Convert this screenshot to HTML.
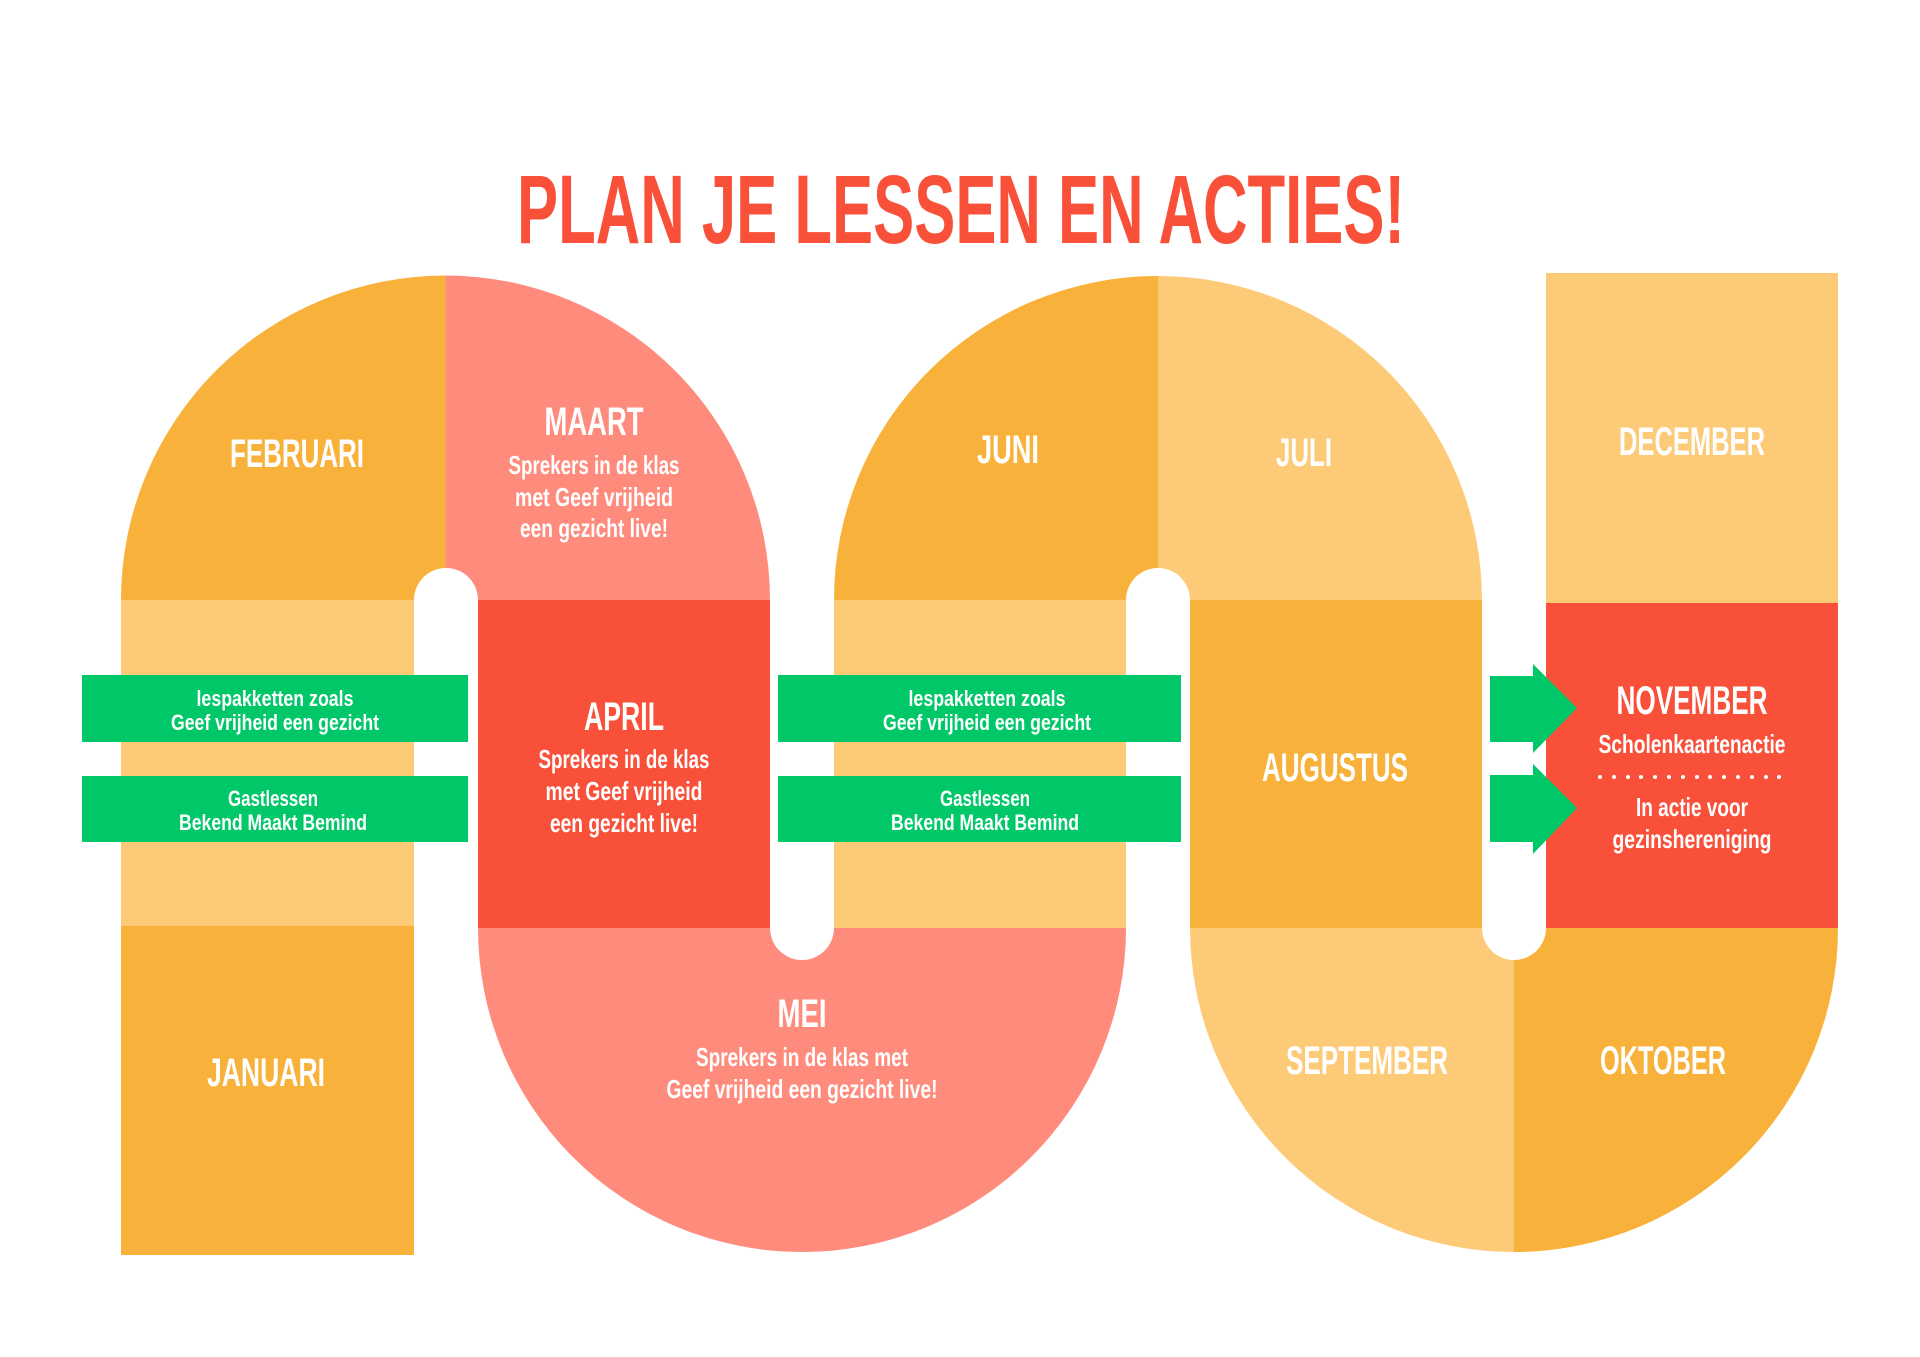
<!DOCTYPE html>
<html><head><meta charset="utf-8"><style>
html,body{margin:0;padding:0;background:#fff;}
svg{display:block;}
text{font-family:"Liberation Sans Narrow","Liberation Sans",sans-serif;font-weight:bold;fill:#fff;text-anchor:middle;}
</style></head><body>
<svg width="1920" height="1357" viewBox="0 0 1920 1357" xmlns="http://www.w3.org/2000/svg">
<rect width="1920" height="1357" fill="#fff"/>
<text x="961" y="243" font-size="97" textLength="888" lengthAdjust="spacingAndGlyphs" style="fill:#F9503A">PLAN JE LESSEN EN ACTIES!</text>

<!-- Arch 1 -->
<path d="M121 600 A324.5 324.5 0 0 1 445.5 275.5 L445.5 600 Z" fill="#F8B13A"/>
<path d="M445.5 275.5 A324.5 324.5 0 0 1 770 600 L445.5 600 Z" fill="#FF8B7D"/>
<rect x="121" y="600" width="293" height="326" fill="#FDCB77"/>
<rect x="121" y="926" width="293" height="329" fill="#F8B13A"/>
<rect x="478" y="600" width="292" height="328" fill="#F9503A"/>
<!-- Mei -->
<path d="M478 928 L1126 928 A324 324 0 0 1 478 928 Z" fill="#FF8B7D"/>
<!-- Arch 2 -->
<path d="M834 600 A324 324 0 0 1 1158 276 L1158 600 Z" fill="#F8B13A"/>
<path d="M1158 276 A324 324 0 0 1 1482 600 L1158 600 Z" fill="#FDCB77"/>
<rect x="834" y="600" width="292" height="328" fill="#FDCB77"/>
<rect x="1190" y="600" width="292" height="328" fill="#F8B13A"/>
<!-- bottom arch 2 -->
<path d="M1190 928 L1514 928 L1514 1252 A324 324 0 0 1 1190 928 Z" fill="#FDCB77"/>
<path d="M1514 928 L1838 928 A324 324 0 0 1 1514 1252 Z" fill="#F8B13A"/>
<rect x="1546" y="273" width="292" height="330" fill="#FDCB77"/>
<rect x="1546" y="603" width="292" height="325" fill="#F9503A"/>
<!-- gaps -->
<path d="M414 600 A32 32 0 0 1 478 600 L478 930 L414 930 Z" fill="#fff"/>
<path d="M770 598 L834 598 L834 928 A32 32 0 0 1 770 928 Z" fill="#fff"/>
<path d="M1126 600 A32 32 0 0 1 1190 600 L1190 930 L1126 930 Z" fill="#fff"/>
<path d="M1482 598 L1546 598 L1546 928 A32 32 0 0 1 1482 928 Z" fill="#fff"/>

<!-- green bars -->
<rect x="82" y="675" width="386" height="67" fill="#00C869"/>
<rect x="82" y="776" width="386" height="66" fill="#00C869"/>
<rect x="778" y="675" width="403" height="67" fill="#00C869"/>
<rect x="778" y="776" width="403" height="66" fill="#00C869"/>
<!-- arrows -->
<polygon points="1490,676 1533,676 1533,664 1577,708 1533,753 1533,742 1490,742" fill="#00C869"/>
<polygon points="1490,775 1533,775 1533,764 1577,808 1533,854 1533,842 1490,842" fill="#00C869"/>

<!-- labels -->
<text x="297" y="467" font-size="40" textLength="134" lengthAdjust="spacingAndGlyphs">FEBRUARI</text>
<text x="594" y="435" font-size="40" textLength="99" lengthAdjust="spacingAndGlyphs">MAART</text>
<text x="594" y="474" font-size="26" textLength="171" lengthAdjust="spacingAndGlyphs">Sprekers in de klas</text>
<text x="594" y="506" font-size="26" textLength="158" lengthAdjust="spacingAndGlyphs">met Geef vrijheid</text>
<text x="594" y="537" font-size="26" textLength="148" lengthAdjust="spacingAndGlyphs">een gezicht live!</text>

<text x="624" y="730" font-size="40" textLength="80" lengthAdjust="spacingAndGlyphs">APRIL</text>
<text x="624" y="768" font-size="26" textLength="171" lengthAdjust="spacingAndGlyphs">Sprekers in de klas</text>
<text x="624" y="800" font-size="26" textLength="157" lengthAdjust="spacingAndGlyphs">met Geef vrijheid</text>
<text x="624" y="832" font-size="26" textLength="148" lengthAdjust="spacingAndGlyphs">een gezicht live!</text>

<text x="266" y="1086" font-size="40" textLength="118" lengthAdjust="spacingAndGlyphs">JANUARI</text>
<text x="802" y="1027" font-size="40" textLength="49" lengthAdjust="spacingAndGlyphs">MEI</text>
<text x="802" y="1066" font-size="26" textLength="212" lengthAdjust="spacingAndGlyphs">Sprekers in de klas met</text>
<text x="802" y="1098" font-size="26" textLength="271" lengthAdjust="spacingAndGlyphs">Geef vrijheid een gezicht live!</text>

<text x="1008" y="463" font-size="40" textLength="62" lengthAdjust="spacingAndGlyphs">JUNI</text>
<text x="1304" y="466" font-size="40" textLength="56" lengthAdjust="spacingAndGlyphs">JULI</text>
<text x="1692" y="455" font-size="40" textLength="146" lengthAdjust="spacingAndGlyphs">DECEMBER</text>
<text x="1335" y="781" font-size="40" textLength="146" lengthAdjust="spacingAndGlyphs">AUGUSTUS</text>
<text x="1367" y="1074" font-size="40" textLength="162" lengthAdjust="spacingAndGlyphs">SEPTEMBER</text>
<text x="1663" y="1074" font-size="40" textLength="126" lengthAdjust="spacingAndGlyphs">OKTOBER</text>

<text x="1692" y="714" font-size="40" textLength="151" lengthAdjust="spacingAndGlyphs">NOVEMBER</text>
<text x="1692" y="753" font-size="26" textLength="187" lengthAdjust="spacingAndGlyphs">Scholenkaartenactie</text>
<g fill="#fff">
<circle cx="1600" cy="777" r="2"/><circle cx="1614" cy="777" r="2"/><circle cx="1628" cy="777" r="2"/><circle cx="1641" cy="777" r="2"/><circle cx="1655" cy="777" r="2"/><circle cx="1669" cy="777" r="2"/><circle cx="1683" cy="777" r="2"/><circle cx="1697" cy="777" r="2"/><circle cx="1710" cy="777" r="2"/><circle cx="1724" cy="777" r="2"/><circle cx="1738" cy="777" r="2"/><circle cx="1752" cy="777" r="2"/><circle cx="1766" cy="777" r="2"/><circle cx="1779" cy="777" r="2"/>
</g>
<text x="1692" y="816" font-size="26" textLength="112" lengthAdjust="spacingAndGlyphs">In actie voor</text>
<text x="1692" y="848" font-size="26" textLength="159" lengthAdjust="spacingAndGlyphs">gezinshereniging</text>

<text x="275" y="706" font-size="22" textLength="157" lengthAdjust="spacingAndGlyphs">lespakketten zoals</text>
<text x="275" y="730" font-size="22" textLength="208" lengthAdjust="spacingAndGlyphs">Geef vrijheid een gezicht</text>
<text x="273" y="806" font-size="22" textLength="90" lengthAdjust="spacingAndGlyphs">Gastlessen</text>
<text x="273" y="830" font-size="22" textLength="188" lengthAdjust="spacingAndGlyphs">Bekend Maakt Bemind</text>

<text x="987" y="706" font-size="22" textLength="157" lengthAdjust="spacingAndGlyphs">lespakketten zoals</text>
<text x="987" y="730" font-size="22" textLength="208" lengthAdjust="spacingAndGlyphs">Geef vrijheid een gezicht</text>
<text x="985" y="806" font-size="22" textLength="90" lengthAdjust="spacingAndGlyphs">Gastlessen</text>
<text x="985" y="830" font-size="22" textLength="188" lengthAdjust="spacingAndGlyphs">Bekend Maakt Bemind</text>
</svg>
</body></html>
